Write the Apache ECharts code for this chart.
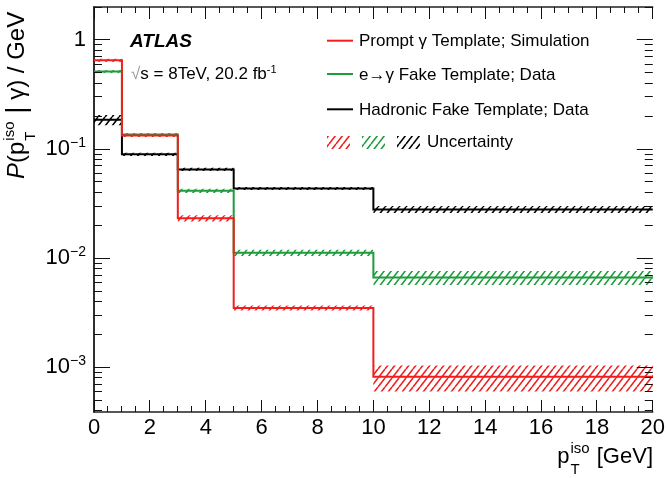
<!DOCTYPE html>
<html>
<head>
<meta charset="utf-8">
<script src="https://cdn.jsdelivr.net/npm/echarts@6/dist/echarts.min.js"></script>
<style>
  html, body { margin: 0; padding: 0; background: #fff; }
  #chart { width: 668px; height: 478px; }
</style>
</head>
<body>
<div id="chart"></div>
<script>
// bin edges of the templates (GeV)
const binEdges = [0, 1, 3, 5, 10, 20];

// template values (per GeV) and uncertainties
const promptVals = [0.65, 0.133, 0.0232, 0.0035, 0.00082];
const promptErrs = [0.021, 0.0043, 0.0015, 0.00019, 0.00022];
const eFakeVals = [0.512, 0.136, 0.0414, 0.0112, 0.00665];
const eFakeErrs = [0.016, 0.0043, 0.0018, 0.00073, 0.00098];
const hadFakeVals = [0.185, 0.0894, 0.0651, 0.0436, 0.028];
const hadFakeErrs = [0.02, 0.0029, 0.0021, 0.0014, 0.002];

const legendNames = ['Prompt \u03b3 Template; Simulation', 'e\u2192\u03b3 Fake Template; Data', 'Hadronic Fake Template; Data', 'Uncertainty'];

// axis ticks
const xMajorTicks = [0, 2, 4, 6, 8, 10, 12, 14, 16, 18, 20];
const xMinorPerMajor = 4;
const yDecades = [-4, -3, -2, -1, 0];
const yMinorSteps = [2, 3, 4, 5, 6, 7, 8, 9];
const yMin = 3.9e-4, yMax = 2.0;

const RED = '#f21d1d', GREEN = '#1c9c3c', BLACK = '#000000';
const AXIS = '#222';
const FONT = '"Liberation Sans", Arial, Helvetica, sans-serif';

// hatch ("///") fill like ROOT style 3354
function hatch(color) {
    const w = 7, h = 9;
    const c = document.createElement('canvas');
    c.width = w; c.height = h;
    const g = c.getContext('2d');
    g.strokeStyle = color;
    g.lineWidth = 1.6;
    g.beginPath();
    [-w, 0, w].forEach(dx => { g.moveTo(dx, h); g.lineTo(dx + w, 0); });
    g.stroke();
    return { type: 'pattern', image: c, repeat: 'repeat' };
}

function stepData(vals) {
    const pts = vals.map((v, i) => [binEdges[i], v]);
    pts.push([binEdges[binEdges.length - 1], vals[vals.length - 1]]);
    return pts;
}
function bandData(vals, errs) {
    return vals.map((v, i) => [binEdges[i], binEdges[i + 1], v - errs[i], v + errs[i]]);
}

function bandSeries(vals, errs, color) {
    const pat = hatch(color);
    return {
        type: 'custom',
        z: 2,
        data: bandData(vals, errs),
        encode: { x: [0, 1], y: [2, 3] },
        renderItem: (params, api) => {
            const p0 = api.coord([api.value(0), api.value(3)]);
            const p1 = api.coord([api.value(1), api.value(2)]);
            return {
                type: 'rect',
                shape: { x: p0[0], y: p0[1], width: p1[0] - p0[0], height: p1[1] - p0[1] },
                style: { fill: pat }
            };
        }
    };
}
function lineSeries(name, vals, color) {
    return {
        name: name,
        type: 'line',
        step: 'end',
        z: 3,
        symbol: 'none',
        data: stepData(vals),
        lineStyle: { color: color, width: 2, cap: 'butt', join: 'miter' }
    };
}

// tick values
const xTickVals = [];
xMajorTicks.forEach((v, i) => {
    xTickVals.push([v, 1]);
    if (i < xMajorTicks.length - 1) {
        const step = (xMajorTicks[i + 1] - v) / xMinorPerMajor;
        for (let k = 1; k < xMinorPerMajor; k++) xTickVals.push([v + k * step, 0]);
    }
});
const yTickVals = [];
yDecades.forEach(n => {
    [1].concat(yMinorSteps).forEach(k => {
        const v = k * Math.pow(10, n);
        if (v >= yMin && v <= yMax) yTickVals.push([v, k === 1 ? 1 : 0]);
    });
});

// text helpers
const mctx = document.createElement('canvas').getContext('2d');
function tw(t, size, style) {
    mctx.font = (style || 'normal') + ' normal ' + size + 'px ' + FONT;
    return mctx.measureText(t).width;
}
function txt(t, x, base, size, style) {
    return {
        type: 'text',
        style: {
            text: t, x: x, y: base - 0.33 * size,
            fontSize: size, fontFamily: FONT, fontStyle: style || 'normal',
            fill: '#000', align: 'left', verticalAlign: 'middle'
        }
    };
}
// pieces: {t, style, size} or {sub, sup}
function mathLabel(pieces, size) {
    const kids = [];
    let x = 0;
    pieces.forEach(p => {
        if (p.sub !== undefined) {
            kids.push(txt(p.sub, x + 1, 11, 15));
            kids.push(txt(p.sup, x + 1, -10, 15));
            x += Math.max(tw(p.sub, 15), tw(p.sup, 15)) + 2;
        } else {
            const s = p.size || size;
            kids.push(txt(p.t, x, p.dy || 0, s, p.style));
            x += tw(p.t, s, p.style);
        }
    });
    return { kids: kids, width: x };
}

const yTitle = mathLabel([
    { t: 'P', style: 'italic' }, { t: '(p' }, { sub: 'T', sup: 'iso' },
    { t: ' ' }, { t: '|', size: 28, dy: 2 }, { t: ' \u03b3) / GeV' }
], 24);
const xTitle = mathLabel([{ t: 'p' }, { sub: 'T', sup: 'iso' }, { t: ' [GeV]' }], 22);

const legendRows = [40.7, 74, 109.3, 142.7];
const legendGraphics = [];
[RED, GREEN, BLACK].forEach((c, i) => {
    legendGraphics.push({ type: 'line', shape: { x1: 327, y1: legendRows[i], x2: 353, y2: legendRows[i] }, style: { stroke: c, lineWidth: 2 } });
    legendGraphics.push({ type: 'text', style: { text: legendNames[i], x: 359, y: legendRows[i] + 1, fontSize: 17, fontFamily: FONT, fill: '#000', verticalAlign: 'middle' } });
});
[[RED, 327], [GREEN, 362], [BLACK, 397]].forEach(([c, x]) => {
    legendGraphics.push({ type: 'rect', shape: { x: x, y: 136, width: 23, height: 13 }, style: { fill: hatch(c) } });
});
legendGraphics.push({ type: 'text', style: { text: legendNames[3], x: 427, y: legendRows[3], fontSize: 17, fontFamily: FONT, fill: '#000', verticalAlign: 'middle' } });

const xAxisBase = {
    type: 'value',
    min: 0,
    max: 20,
    interval: 2,
    axisLine: { show: true, lineStyle: { color: AXIS, width: 1.5 } },
    splitLine: { show: false },
    axisTick: { show: false },
    minorTick: { show: false }
};
const yAxisBase = {
    type: 'log',
    logBase: 10,
    min: yMin,
    max: yMax,
    axisLine: { show: true, lineStyle: { color: AXIS, width: 1.5 } },
    axisTick: { show: false },
    splitLine: { show: false }
};

const option = {
    animation: false,
    grid: { left: 94, right: 15, top: 7, bottom: 66 },
    xAxis: [
        Object.assign({}, xAxisBase, {
            position: 'bottom',
            axisLabel: { color: '#000', fontSize: 22, fontFamily: FONT, margin: 5 }
        }),
        Object.assign({}, xAxisBase, { position: 'top', axisLabel: { show: false } })
    ],
    yAxis: [
        Object.assign({}, yAxisBase, {
            position: 'left',
            axisLabel: {
                margin: 8,
                formatter: v => {
                    const e = Math.log10(v), r = Math.round(e);
                    if (Math.abs(e - r) > 1e-6) return '';
                    if (r === 0) return '{b|1}';
                    return '{b|10}{s|\u2212' + (-r) + '}';
                },
                rich: {
                    b: { fontSize: 22, fontFamily: FONT, color: '#000' },
                    s: { fontSize: 14, fontFamily: FONT, color: '#000', padding: [0, 0, 12, 0] }
                }
            }
        }),
        Object.assign({}, yAxisBase, { position: 'right', axisLabel: { show: false } })
    ],
    graphic: [
        { type: 'group', x: 25, y: 179, rotation: Math.PI / 2, children: yTitle.kids },
        { type: 'group', x: 653 - xTitle.width, y: 464, children: xTitle.kids },
        { type: 'text', style: { text: 'ATLAS', x: 130, y: 42, fontSize: 19, fontWeight: 'bold', fontStyle: 'italic', fontFamily: FONT, fill: '#000', verticalAlign: 'middle' } },
        {
            type: 'text',
            style: {
                text: '{g|\u221a}s = 8TeV, 20.2 fb{s|-1}', x: 131, y: 74, fontSize: 17, fontFamily: FONT, fill: '#000', verticalAlign: 'middle',
                rich: {
                    g: { fontSize: 17, fontFamily: FONT, fill: '#999' },
                    s: { fontSize: 11, fontFamily: FONT, fill: '#000', padding: [0, 0, 9, 0] }
                }
            }
        }
    ].concat(legendGraphics),
    series: [
        bandSeries(hadFakeVals, hadFakeErrs, BLACK),
        bandSeries(eFakeVals, eFakeErrs, GREEN),
        bandSeries(promptVals, promptErrs, RED),
        lineSeries('hadronic', hadFakeVals, BLACK),
        lineSeries('efake', eFakeVals, GREEN),
        lineSeries('prompt', promptVals, RED)
    ]
};

const chart = echarts.init(document.getElementById('chart'));
chart.setOption(option);

// ROOT-style ticks on all four sides, positioned through the axis scales,
// added straight to the zrender scene on top of everything
const zr = chart.getZr();
function addTick(x, y, w, h) {
    zr.add(new echarts.graphic.Rect({
        z: 1000,
        zlevel: 0,
        silent: true,
        shape: { x: x, y: y, width: w, height: h },
        style: { fill: '#111' }
    }));
}
const yBottom = chart.convertToPixel({ yAxisIndex: 0 }, yMin);
const yTop = chart.convertToPixel({ yAxisIndex: 0 }, yMax);
const xLeft = chart.convertToPixel({ xAxisIndex: 0 }, 0);
const xRight = chart.convertToPixel({ xAxisIndex: 0 }, 20);
xTickVals.forEach(([v, major]) => {
    const len = major ? 12 : 6;
    const x = Math.floor(chart.convertToPixel({ xAxisIndex: 0 }, v));
    addTick(x, yBottom - len, 1, len);
    addTick(x, yTop, 1, len);
});
yTickVals.forEach(([v, major]) => {
    const len = major ? 16 : 8;
    const y = Math.floor(chart.convertToPixel({ yAxisIndex: 0 }, v));
    addTick(xLeft, y, len, 1);
    addTick(xRight - len, y, len, 1);
});
</script>
</body>
</html>
